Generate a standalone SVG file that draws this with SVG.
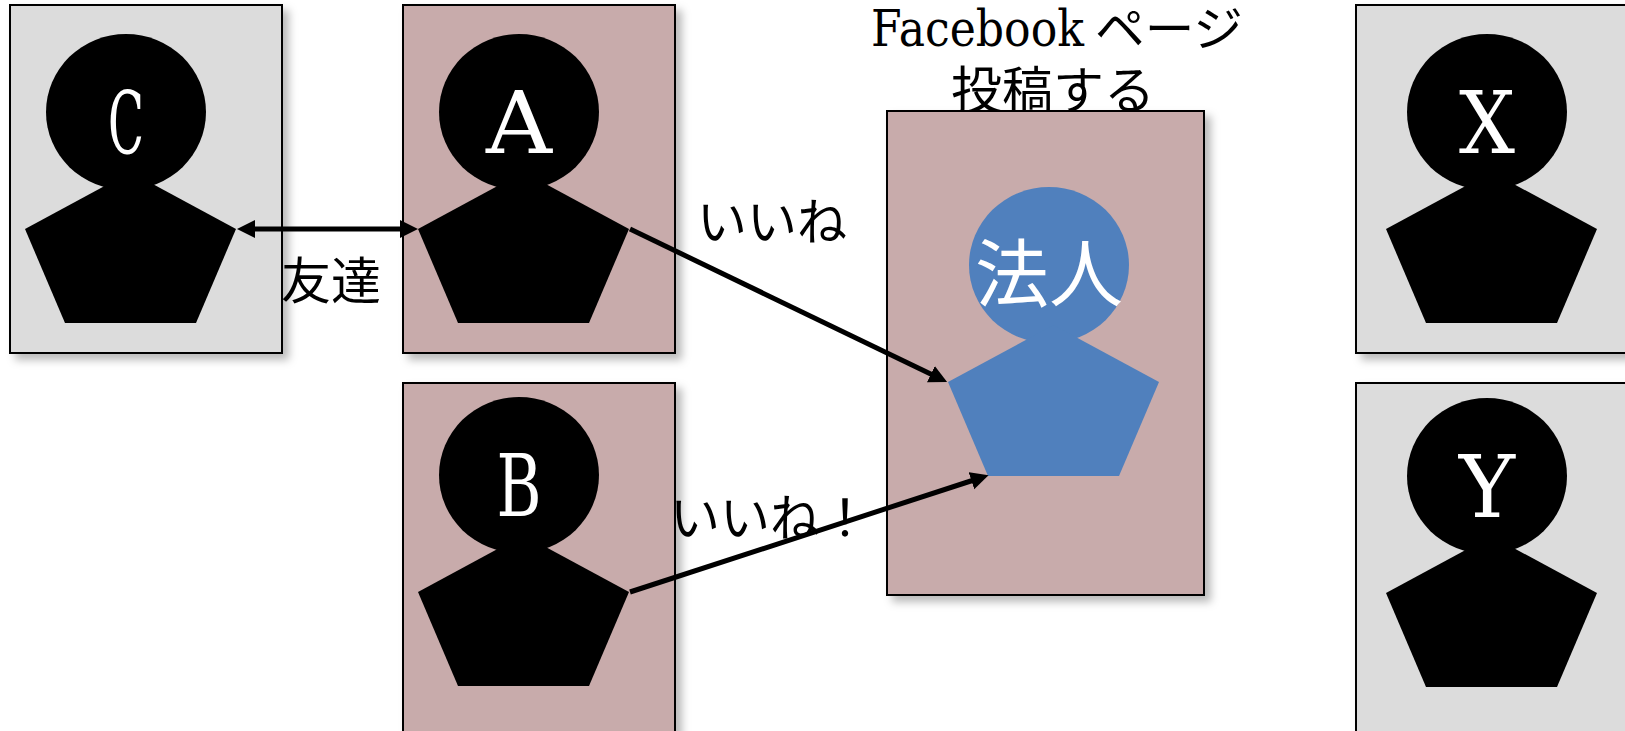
<svg xmlns="http://www.w3.org/2000/svg" width="1625" height="731" viewBox="0 0 1625 731">
<style>
.g{fill:#dcdcdc}.r{fill:#c8abab}
.p{stroke:#000;stroke-width:2;filter:url(#s)}
.t{font-family:"Noto Sans CJK JP","Liberation Sans",sans-serif;font-size:50px;fill:#000;font-weight:400}
.l{font-family:"DejaVu Serif",serif;font-size:86px;fill:#fff;text-anchor:middle}
.c{stroke:#000;stroke-width:5;fill:none}
</style>
<defs>
<filter id="s" x="-10%" y="-10%" width="125%" height="125%"><feDropShadow dx="6" dy="6" stdDeviation="4" flood-color="#000" flood-opacity=".27"/></filter>
<marker id="e" markerUnits="userSpaceOnUse" markerWidth="20" markerHeight="20" refX="9" refY="9" orient="auto"><path d="M0 0L18 9L0 18Z"/></marker>
<marker id="b" markerUnits="userSpaceOnUse" markerWidth="20" markerHeight="20" refX="9" refY="9" orient="auto"><path d="M18 0L0 9L18 18Z"/></marker>
<g id="man"><ellipse cx="126" cy="112" rx="80" ry="78"/><path d="M130.500 172L236 229L196 323H65L25 229Z"/></g>
</defs>
<text class="t" x="281" y="299">友達</text>
<text class="t" x="697" y="240">いいね</text>
<text class="t" x="670" y="536">いいね！</text>
<text x="871" y="46" style="font-family:'DejaVu Serif','Noto Sans CJK JP',serif;font-size:50px;fill:#000" textLength="213" lengthAdjust="spacingAndGlyphs">Facebook</text>
<text class="t" x="1095" y="46" style="font-size:48px" textLength="148" lengthAdjust="spacingAndGlyphs">ページ</text>
<text class="t" x="1053" y="109" text-anchor="middle" style="font-size:51px">投稿する</text>
<g id="node-c"><rect class="p g" x="10" y="5" width="272" height="348"/><use href="#man"/><text class="l" x="126" y="153" textLength="36" lengthAdjust="spacingAndGlyphs">C</text></g>
<g id="node-a"><rect class="p r" x="403" y="5" width="272" height="348"/><use href="#man" x="393"/><text class="l" x="519" y="153" textLength="66" lengthAdjust="spacingAndGlyphs">A</text></g>
<g id="node-b"><rect class="p r" x="403" y="383" width="272" height="350"/><use href="#man" x="393" y="363"/><text class="l" x="519" y="516" textLength="45" lengthAdjust="spacingAndGlyphs">B</text></g>
<g id="node-corp"><rect class="p r" x="887" y="111" width="317" height="484"/><use href="#man" x="923" y="153" style="fill:#5080bd"/><text x="1049" y="301" text-anchor="middle" style="font-family:'Noto Sans CJK JP',sans-serif;font-size:74px;fill:#fff;font-weight:400">法人</text></g>
<g id="node-x"><rect class="p g" x="1356" y="5" width="280" height="348"/><use href="#man" x="1361"/><text class="l" x="1487" y="153" textLength="56" lengthAdjust="spacingAndGlyphs">X</text></g>
<g id="node-y"><rect class="p g" x="1356" y="383" width="280" height="350"/><use href="#man" x="1361" y="364"/><text class="l" x="1487" y="517" textLength="56" lengthAdjust="spacingAndGlyphs">Y</text></g>
<g id="connectors">
<line class="c" x1="246" y1="229" x2="409" y2="229" marker-start="url(#b)" marker-end="url(#e)"/>
<line class="c" x1="630" y1="229" x2="939" y2="378" marker-end="url(#e)"/>
<line class="c" x1="630" y1="592" x2="980" y2="478" marker-end="url(#e)"/>
</g>
</svg>
